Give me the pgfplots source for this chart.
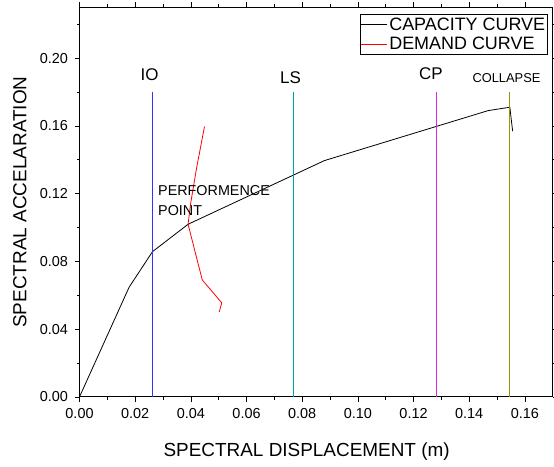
\documentclass[border=0pt]{standalone}
\usepackage{pgfplots}
\pgfplotsset{compat=1.18}
\usetikzlibrary{calc}
\usepackage{fontspec}
\setmainfont{Liberation Sans}
\definecolor{ioblue}{RGB}{50,50,255}
\definecolor{lsteal}{RGB}{0,160,170}
\definecolor{cpmag}{RGB}{220,40,220}
\definecolor{colol}{RGB}{150,150,0}
\begin{document}
\begin{tikzpicture}
\begin{axis}[
  scale only axis,
  width=473bp, height=389.4bp,
  xmin=0, xmax=0.17, ymin=0, ymax=0.23,
  xtick={0,0.02,...,0.16},
  ytick={0,0.04,...,0.20},
  minor xtick={0.01,0.03,...,0.151},
  minor ytick={0.02,0.06,...,0.221},
  tick pos=both, tick align=outside,
  major tick length=5bp, minor tick length=3bp,
  every tick/.style={black, line width=0.6bp},
  axis line style={line width=0.8bp},
  /pgf/number format/assume math mode=true,
  xticklabel style={/pgf/number format/.cd, fixed, fixed zerofill, precision=2},
  yticklabel style={/pgf/number format/.cd, fixed, fixed zerofill, precision=2},
  ticklabel style={font=\fontsize{14.5}{14.5}\selectfont},
  xticklabel shift=3bp,
  yticklabel shift=3bp,
  scaled ticks=false,
  xlabel={SPECTRAL DISPLACEMENT (m)},
  ylabel={SPECTRAL ACCELARATION},
  label style={font=\fontsize{19}{19}\selectfont},
  xlabel style={at={(axis description cs:0.48,-0.1412)}, anchor=center},
  ylabel style={at={(axis description cs:-0.126,0.5)}, anchor=center},
  legend style={at={(0.593,0.983)}, anchor=north west, draw=black, line width=0.6bp,
    font=\fontsize{18}{19}\selectfont, inner xsep=0pt, inner ysep=1pt, row sep=1bp,
    cells={anchor=west, text height=13bp, text depth=4bp, inner ysep=2bp}},
  legend image code/.code={\draw[#1] (0cm,0cm) -- (0.92cm,0cm);},
  clip=false,
]
\addplot[black, line width=0.8bp] coordinates {
  (0,0) (0.0178,0.0647) (0.0262,0.0857) (0.039,0.1019) (0.088,0.1395)
  (0.1468,0.169) (0.1546,0.171) (0.1556,0.1569)
};
\addlegendentry{CAPACITY CURVE}
\addplot[red, line width=0.8bp] coordinates {
  (0.0449,0.1596) (0.0421,0.1355) (0.0399,0.114) (0.039,0.1019)
  (0.0441,0.069) (0.0493,0.059) (0.0511,0.0555) (0.0502,0.0502)
};
\addlegendentry{DEMAND CURVE}
\addplot[ioblue, line width=1bp, forget plot] coordinates {(0.0262,0) (0.0262,0.18)};
\addplot[lsteal, line width=1bp, forget plot] coordinates {(0.0770,0) (0.0770,0.18)};
\addplot[cpmag, line width=1bp, forget plot] coordinates {(0.1284,0) (0.1284,0.18)};
\addplot[colol, line width=1bp, forget plot] coordinates {(0.1545,0) (0.1545,0.18)};
\node[font=\fontsize{17}{17}\selectfont] at (axis cs:0.0252,0.19) {IO};
\node[font=\fontsize{17}{17}\selectfont] at (axis cs:0.0758,0.1885) {LS};
\node[font=\fontsize{17}{17}\selectfont] at (axis cs:0.1262,0.191) {CP};
\node[font=\fontsize{12.9}{12.9}\selectfont] at (axis cs:0.1534,0.188) {COLLAPSE};
\node[font=\fontsize{14.4}{16}\selectfont, align=left, anchor=west, inner sep=0pt] at (axis cs:0.0282,0.1157) {PERFORMENCE\\[4pt]POINT};
\end{axis}
\pgfresetboundingbox
\path ($(current axis.south west)+(-79.5bp,-69.3bp)$) rectangle ($(current axis.north east)+(1.3bp,7.3bp)$);
\end{tikzpicture}
\end{document}
